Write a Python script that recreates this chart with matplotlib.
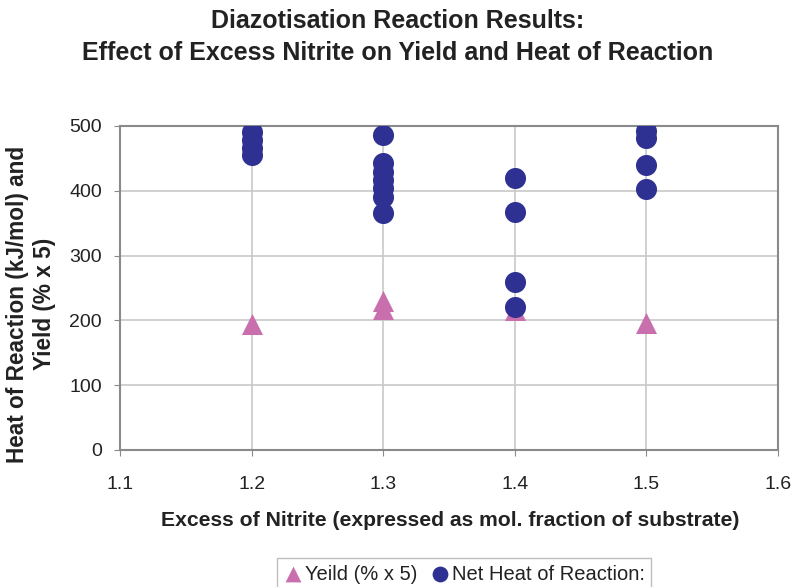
import numpy as np
import matplotlib.pyplot as plt

plt.rcParams['font.family'] = ['Liberation Sans', 'DejaVu Sans']

# Yield (% x 5)
yield_x = [1.2, 1.3, 1.3, 1.4, 1.5]
yield_y = [195, 230, 218, 216, 196]

# Net heat of reaction (kJ/mol)
heat_x = [1.2, 1.2, 1.2, 1.2,
          1.3, 1.3, 1.3, 1.3, 1.3, 1.3, 1.3,
          1.4, 1.4, 1.4, 1.4,
          1.5, 1.5, 1.5, 1.5]
heat_y = [490, 478, 466, 455,
          486, 443, 429, 417, 404, 391, 365,
          420, 368, 260, 221,
          493, 482, 440, 403]

x_ticks = [1.1, 1.2, 1.3, 1.4, 1.5, 1.6]
y_ticks = [0, 100, 200, 300, 400, 500]

txt = '#222222'
grid_c = '#c8c8c8'

fig = plt.figure(figsize=(7.96, 5.87), dpi=100)
ax = fig.add_axes([120 / 796, 1 - 450 / 587, 658 / 796, 324 / 587])

ax.scatter(yield_x, yield_y, marker='^', s=230, color='#c96fae', zorder=3,
           linewidths=0, label='Yeild (% x 5)')
ax.scatter(heat_x, heat_y, marker='o', s=230, color='#2e3192', zorder=4,
           linewidths=0, label='Net Heat of Reaction:')

ax.set_xlim(1.1, 1.6)
ax.set_ylim(0, 500)
ax.set_xticks(x_ticks)
ax.set_yticks(y_ticks)
ax.set_xticklabels([str(t) for t in x_ticks])
ax.grid(True, color=grid_c, linewidth=1.2, zorder=0)
ax.set_axisbelow(True)
for s in ax.spines.values():
    s.set_color('#8a8a8a')
    s.set_linewidth(1.5)
ax.tick_params(colors=txt, labelsize=14, length=4, color='#8a8a8a', pad=9)
ax.tick_params(axis='x', pad=15)

fig.text(450 / 796, 1 - 520 / 587,
         'Excess of Nitrite (expressed as mol. fraction of substrate)',
         ha='center', va='center', fontsize=15.2, fontweight='bold', color=txt)
fig.text(31 / 796, 1 - 304 / 587, 'Heat of Reaction (kJ/mol) and\nYield (% x 5)',
         ha='center', va='center', rotation=90, fontsize=16.3, fontweight='bold',
         color=txt, linespacing=1.2)

fig.text(0.5, 1 - 21 / 587, 'Diazotisation Reaction Results:', ha='center', va='center',
         fontsize=18, fontweight='bold', color=txt)
fig.text(0.5, 1 - 53 / 587, 'Effect of Excess Nitrite on Yield and Heat of Reaction',
         ha='center', va='center', fontsize=18, fontweight='bold', color=txt)

leg = fig.legend(loc='center', bbox_to_anchor=(464 / 796, 1 - 574 / 587), ncol=2,
                 fontsize=14.5, frameon=True, fancybox=False, handletextpad=0.1,
                 columnspacing=0.6, borderpad=0.3, handlelength=1.0, markerscale=0.75)
leg.get_frame().set_edgecolor('#b0b0b0')
for t in leg.get_texts():
    t.set_color(txt)

fig.savefig('out.png', dpi=100)
